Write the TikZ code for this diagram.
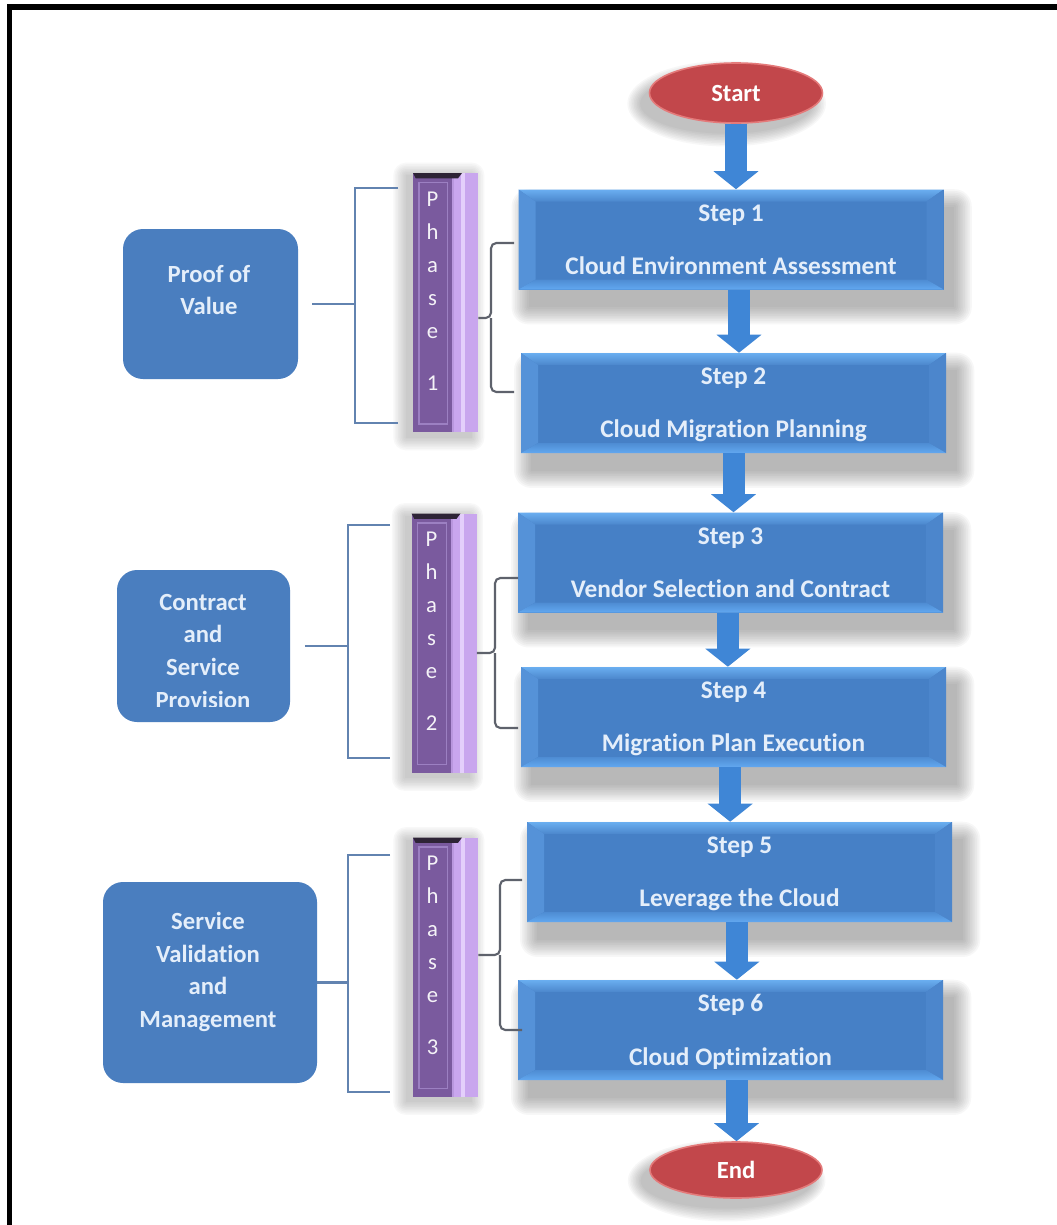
\documentclass[tikz,border=0pt]{standalone}
\usepackage{fontspec}
\setmainfont{Carlito}[Ligatures={NoCommon,NoContextual}]
\usetikzlibrary{arrows.meta,shapes.geometric}
\pgfdeclarelayer{bg}
\pgfsetlayers{bg,main}
\definecolor{stepbody}{HTML}{4680C6}
\definecolor{bevtop}{HTML}{6AAEF0}
\definecolor{bevleft}{HTML}{5592D8}
\definecolor{bevright}{HTML}{4C86CC}
\definecolor{bevbot}{HTML}{62A8F0}
\definecolor{txtlight}{HTML}{E4EEFA}
\definecolor{sideblue}{HTML}{4A7EBF}
\definecolor{phdark}{HTML}{7A5A9E}
\definecolor{phline}{HTML}{9C80C2}
\definecolor{phside}{HTML}{C9A6EE}
\definecolor{phhi}{HTML}{E4CFFB}
\definecolor{phtop}{HTML}{2E2436}
\definecolor{lbrcol}{HTML}{6283B0}
\definecolor{rbrcol}{HTML}{5E626C}
\definecolor{redfill}{HTML}{C2474B}
\definecolor{redrim}{HTML}{E47A7A}
\definecolor{arrowblue}{HTML}{3F86D6}
\definecolor{shadowgray}{HTML}{505050}
\begin{document}
\begin{tikzpicture}[x=0.75pt,y=-0.75pt,
  stepbox/.style={rectangle, fill=stepbody, minimum width=318.75pt, minimum height=75pt,
    inner sep=0pt, text=txtlight, font=\fontsize{19}{40}\selectfont\bfseries, align=center, text depth=0pt,
    path picture={
      \path (path picture bounding box.north west) coordinate (bnw)
            (path picture bounding box.north east) coordinate (bne)
            (path picture bounding box.south west) coordinate (bsw)
            (path picture bounding box.south east) coordinate (bse);
      \shade[top color=bevtop, bottom color=stepbody!85!bevtop] (bnw) -- (bne) -- ([shift={(-12.75pt,-9pt)}]bne) -- ([shift={(12.75pt,-9pt)}]bnw) -- cycle;
      \fill[bevleft] (bnw) -- ([shift={(12.75pt,-9pt)}]bnw) -- ([shift={(12.75pt,7.5pt)}]bsw) -- (bsw) -- cycle;
      \fill[bevright] (bne) -- ([shift={(-12.75pt,-9pt)}]bne) -- ([shift={(-12.75pt,7.5pt)}]bse) -- (bse) -- cycle;
      \shade[top color=stepbody!70!bevbot, bottom color=bevbot] (bsw) -- (bse) -- ([shift={(-12.75pt,7.5pt)}]bse) -- ([shift={(12.75pt,7.5pt)}]bsw) -- cycle;
    }},
  sidebox/.style={rectangle, rounded corners=15pt, fill=sideblue, inner sep=0pt},
  sidetext/.style={text=txtlight, font=\fontsize{18.5}{24.5}\selectfont\bfseries, align=center},
  phasebar/.style={rectangle, fill=phside, minimum width=48.75pt, minimum height=194.25pt, inner sep=0pt,
    path picture={
      \path (path picture bounding box.north west) coordinate (pnw)
            (path picture bounding box.south west) coordinate (psw)
            (path picture bounding box.north east) coordinate (pne)
            (path picture bounding box.south east) coordinate (pse);
      \fill[phdark] (pnw) rectangle ([xshift=29.25pt]psw);
      \draw[phline, line width=1pt] ([shift={(4.5pt,-7pt)}]pnw) rectangle ([shift={(26pt,6pt)}]psw);
      \fill[phhi] ([xshift=36pt]pnw) rectangle ([xshift=39pt]psw);
      \fill[phside!80!phdark] ([xshift=29.25pt]pnw) rectangle ([xshift=31pt]psw);
      \fill[phtop] (pnw) -- ([xshift=-12pt]pne) -- ([shift={(-15pt,-4pt)}]pne) -- ([shift={(2pt,-4pt)}]pnw) -- cycle;
    }},
  phasetext/.style={text=white!92!phdark, font=\fontsize{17}{24.75}\selectfont, align=center, inner sep=0pt},
  endnode/.style={ellipse, fill=redfill, draw=redrim, line width=1.2pt, text=white, font=\fontsize{18.5}{20}\selectfont\bfseries},
  flow/.style={draw=arrowblue, line width=16.5pt, -{Triangle[length=13.5pt, width=33pt]}},
  lbr/.style={draw=lbrcol, line width=1.6pt},
  rbr/.style={draw=rbrcol, line width=1.6pt, rounded corners=4pt},
  shadowlayer/.style={fill=shadowgray, fill opacity=0.045}]

\useasboundingbox (0,0) rectangle (1057,1225);
\begin{pgfonlayer}{bg}
\fill[white] (0,0) rectangle (1057,1225);
\end{pgfonlayer}
% frame
\fill[black] (7,4) rectangle (1057,10);
\fill[black] (7,4) rectangle (12,1225);

% start / end
\node[endnode, minimum width=129.75pt, minimum height=45pt] (start) at (736,93) {Start};
\node[endnode, minimum width=129pt, minimum height=42pt] (end) at (736,1170) {End};

% steps
\node[stepbox] (s1) at (731,239.5) {Step 1\\Cloud Environment Assessment};
\node[stepbox] (s2) at (733.5,403) {Step 2\\Cloud Migration Planning};
\node[stepbox] (s3) at (730.5,562.5) {Step 3\\Vendor Selection and Contract};
\node[stepbox] (s4) at (733.5,717) {Step 4\\Migration Plan Execution};
\node[stepbox] (s5) at (739.5,872) {Step 5\\Leverage the Cloud};
\node[stepbox] (s6) at (730.5,1030) {Step 6\\Cloud Optimization};

% phase bars
\node[phasebar] (p1) at (445.5,302.5) {};
\node[phasebar] (p2) at (444,643) {};
\node[phasebar] (p3) at (445.5,967) {};
\node[phasetext] (p1t) at (432.5,291) {P\\h\\a\\s\\e\\[14.25pt]1};
\node[phasetext] (p2t) at (431.5,631) {P\\h\\a\\s\\e\\[14.25pt]2};
\node[phasetext] (p3t) at (432.5,955.5) {P\\h\\a\\s\\e\\[14.25pt]3};

% soft shadows
\begin{pgfonlayer}{bg}
\foreach \n in {s1,s2,s3,s4,s5,s6}{
  \foreach \k in {0,...,10}{
    \fill[shadowlayer, rounded corners=1.3*\k pt]
      ([shift={(8pt-1.3*\k pt,-13pt+1.3*\k pt)}]\n.north west) rectangle
      ([shift={(8pt+1.3*\k pt,-13pt-1.3*\k pt)}]\n.south east);
  }
}
\foreach \n in {p1,p2,p3}{
  \foreach \k in {0,...,8}{
    \fill[shadowlayer, fill opacity=0.035, rounded corners=1.2*\k pt]
      ([shift={(-5pt-1.2*\k pt,-2pt+1.2*\k pt)}]\n.north west) rectangle
      ([shift={(-5pt+1.2*\k pt,-4pt-1.2*\k pt)}]\n.south east);
  }
}
\foreach \n/\rx/\ry in {start/64.9/22.5,end/64.5/21}{
  \foreach \k in {0,...,8}{
    \fill[shadowlayer] ([shift={(-7pt,-8pt)}]\n.center) ellipse [x radius=\rx pt+1.2*\k pt, y radius=\ry pt+1.2*\k pt];
  }
}
\end{pgfonlayer}

% side boxes
\node[sidebox, minimum width=131.25pt, minimum height=112.5pt] (pv) at (210.5,304) {};
\node[sidetext] (pvt) at (209,290) {Proof of\\Value};
\node[sidebox, minimum width=129.75pt, minimum height=114pt] (cs) at (203.5,646) {};
\begin{scope}
  \clip (100,560) rectangle (310,706);
  \node[sidetext] (cst) at (203,651) {Contract\\and\\Service\\Provision};
\end{scope}
\node[sidebox, minimum width=160.5pt, minimum height=150.75pt] (sv) at (210,982.5) {};
\node[sidetext] (svt) at (208,972) {Service\\Validation\\and\\Management};

% left brackets
\coordinate (lb1t) at (398,188); \coordinate (lb1m) at (355,304); \coordinate (lb1b) at (398,423);
\coordinate (lb2t) at (390,525); \coordinate (lb2m) at (348,646); \coordinate (lb2b) at (390,758);
\coordinate (lb3t) at (390,855); \coordinate (lb3m) at (348,982.5); \coordinate (lb3b) at (390,1092);
\draw[lbr] (lb1t) -| (lb1m) |- (lb1b);
\draw[lbr] ([xshift=10.5pt]pv.east) -- (lb1m);
\draw[lbr] (lb2t) -| (lb2m) |- (lb2b);
\draw[lbr] ([xshift=11pt]cs.east) -- (lb2m);
\draw[lbr] (lb3t) -| (lb3m) |- (lb3b);
\draw[lbr] (sv.east) -- (lb3m);

% right brackets
\coordinate (rb1t) at (514,243); \coordinate (rb1m) at (491,318); \coordinate (rb1b) at (514,392);
\coordinate (rb2t) at (518,578); \coordinate (rb2m) at (495,653); \coordinate (rb2b) at (518,728);
\coordinate (rb3t) at (522,880); \coordinate (rb3m) at (500,955); \coordinate (rb3b) at (522,1030);
\draw[rbr] (rb1t) -| (rb1m) -- (p1.east |- rb1m);
\draw[rbr] (rb1b) -| (rb1m);
\draw[rbr] (rb2t) -| (rb2m) -- (p2.east |- rb2m);
\draw[rbr] (rb2b) -| (rb2m);
\draw[rbr] (rb3t) -| (rb3m) -- (p3.east |- rb3m);
\draw[rbr] (rb3b) -| (rb3m);

% flow arrows
\draw[flow] (start.south) -- (start.south |- s1.north);
\draw[flow] ([xshift=6pt]s1.south) -- ([xshift=6pt]s1.south |- s2.north);
\draw[flow] (s2.south) -- (s2.south |- s3.north);
\draw[flow] ([xshift=-2pt]s3.south) -- ([xshift=-2pt]s3.south |- s4.north);
\draw[flow] ([xshift=-2.5pt]s4.south) -- ([xshift=-2.5pt]s4.south |- s5.north);
\draw[flow] ([xshift=-2pt]s5.south) -- ([xshift=-2pt]s5.south |- s6.north);
\draw[flow] ([xshift=4.5pt]s6.south) -- ([xshift=4.5pt]s6.south |- end.north);
\end{tikzpicture}
\end{document}
